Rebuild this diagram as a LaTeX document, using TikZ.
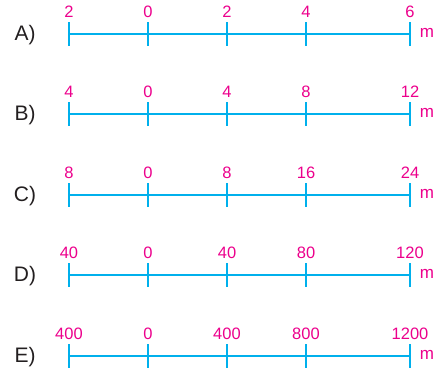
\documentclass[tikz,border=0pt]{standalone}
\usepackage{fontspec}
\setmainfont{Liberation Sans}
\definecolor{sblue}{RGB}{0,176,236}
\definecolor{smag}{RGB}{236,0,140}
\definecolor{sgray}{RGB}{35,31,32}
\begin{document}
\begin{tikzpicture}[x=1pt,y=-1pt,
  scaleline/.style={draw=sblue,line width=1.6pt},
  tickmark/.style={draw=sblue,line width=2pt},
  numlab/.style={text=smag,font=\fontsize{16.5}{16.5}\selectfont,inner sep=0pt},
  rowlab/.style={text=sgray,font=\fontsize{21}{21}\selectfont,inner sep=0pt},
  unitlab/.style={text=smag,font=\fontsize{17}{17}\selectfont,inner sep=0pt}]
\useasboundingbox (0,0) rectangle (438,372);
\foreach \r/\yy/\a/\b/\c/\d/\e in {A/34/2/0/2/4/6, B/114/4/0/4/8/12, C/195/8/0/8/16/24, D/275/40/0/40/80/120, E/356/400/0/400/800/1200} {
  \coordinate (\r0) at (69,\yy);
  \coordinate (\r1) at (148,\yy);
  \coordinate (\r2) at (227,\yy);
  \coordinate (\r3) at (306,\yy);
  \coordinate (\r4) at (410,\yy);
  \draw[scaleline] (\r0) -- (\r4);
  \foreach \i in {0,...,4} {
    \draw[tickmark] ([yshift=12pt]\r\i) -- ([yshift=-12pt]\r\i);
  }
  \node[numlab] (\r-n0) at ([yshift=22pt]\r0) {\a};
  \node[numlab] (\r-n1) at ([yshift=22pt]\r1) {\b};
  \node[numlab] (\r-n2) at ([yshift=22pt]\r2) {\c};
  \node[numlab] (\r-n3) at ([yshift=22pt]\r3) {\d};
  \node[numlab] (\r-n4) at ([yshift=22pt]\r4) {\e};
  \node[rowlab] (\r-lab) at ([yshift=-1pt]25,\yy) {\r)};
  \node[unitlab] (\r-unit) at ([yshift=1pt]427,\yy) {m};
}
\end{tikzpicture}
\end{document}
